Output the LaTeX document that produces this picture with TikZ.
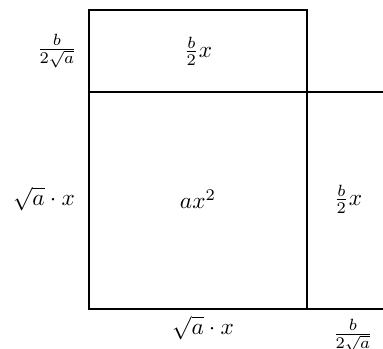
\documentclass[tikz,border=0pt]{standalone}
\begin{document}
\begin{tikzpicture}[x=0.43pt,y=-0.43pt,
  mainline/.style={line width=0.85pt},
  sideline/.style={line width=0.5pt},
  lbl/.style={inner sep=0pt}]
\useasboundingbox (0,0) rectangle (383,348);
% shapes
\draw[sideline] (307,92) -- (400,92);
\draw[sideline] (307,309) -- (400,309);
\draw[mainline] (89,10) rectangle (307,92);
\draw[mainline] (89,92) rectangle (307,309);
% labels
\node[lbl] (l1) at (57,51) {$\frac{b}{2\sqrt{a}}$};
\node[lbl] (t1) at (198,51) {$\frac{b}{2}x$};
\node[lbl] (l2) at (44,199) {$\sqrt{a}\cdot x$};
\node[lbl] (c1) at (198,199) {$ax^2$};
\node[lbl] (r1) at (348,199) {$\frac{b}{2}x$};
\node[lbl] (b1) at (203,328) {$\sqrt{a}\cdot x$};
\node[lbl] (b2) at (353,336) {$\frac{b}{2\sqrt{a}}$};
\end{tikzpicture}
\end{document}
